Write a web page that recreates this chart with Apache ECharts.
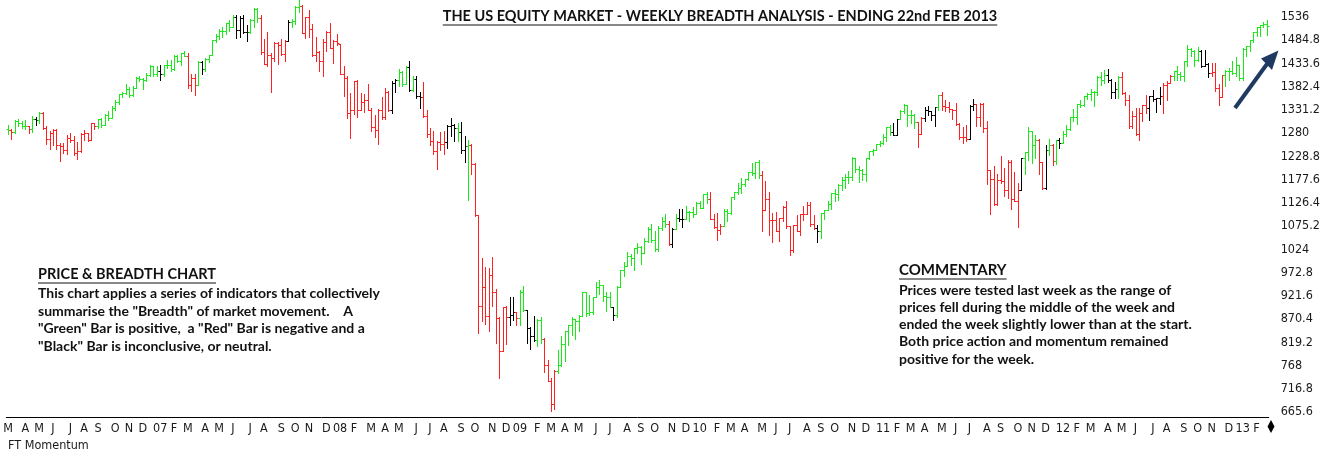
<!DOCTYPE html>
<html>
<head>
<meta charset="utf-8">
<title>US Equity Market - Weekly Breadth Analysis</title>
<script src="https://cdn.jsdelivr.net/npm/echarts@6/dist/echarts.min.js"></script>
<style>
  html, body { margin: 0; padding: 0; background: #fff; }
  #chart { width: 1323px; height: 455px; }
</style>
</head>
<body>
<div id="chart"></div>
<script>
// S&P weekly bars, one row per week ending Friday, first week ends 3 Mar 2006
// row = [open, high, low, close]
const ohlc2006 = [
  [1289,1297,1278,1287],[1287,1290,1268,1282],[1282,1310,1281,1307],[1307,1311,1296,1302],[1302,1307,1291,1295],
  [1295,1310,1290,1295],[1295,1296,1280,1289],[1289,1318,1282,1311],[1311,1316,1299,1310],
  [1310,1326,1303,1325],[1325,1327,1290,1291],[1291,1295,1256,1267],[1267,1284,1245,1280],
  [1280,1290,1254,1288],[1288,1289,1245,1253],[1253,1258,1219,1251],[1251,1258,1237,1244],[1244,1276,1234,1270],
  [1270,1280,1260,1265],[1265,1273,1233,1236],[1236,1260,1224,1240],[1240,1280,1239,1278],
  [1278,1287,1265,1280],[1280,1281,1262,1266],[1266,1303,1265,1302],[1302,1303,1290,1295],
  [1295,1312,1291,1311],[1311,1314,1294,1299],[1299,1322,1298,1319],[1319,1329,1310,1314],[1314,1340,1313,1336],
  [1336,1353,1331,1349],[1349,1366,1344,1366],[1366,1371,1360,1368],[1368,1389,1366,1377],
  [1377,1381,1360,1364],[1364,1384,1362,1380],[1380,1404,1379,1401],[1401,1406,1396,1400],
  [1400,1402,1377,1397],[1397,1412,1396,1409],[1409,1431,1405,1427],[1427,1429,1407,1410],[1410,1427,1407,1418]
]
const ohlc2007 = [
  [1418,1430,1397,1410],[1410,1431,1405,1431],[1431,1441,1424,1431],[1431,1441,1416,1422],
  [1422,1452,1420,1449],[1449,1453,1437,1438],[1438,1456,1431,1456],[1456,1461,1450,1451],
  [1451,1456,1380,1387],[1387,1410,1374,1402],[1402,1411,1364,1387],[1387,1438,1386,1436],[1436,1438,1411,1421],
  [1421,1445,1416,1444],[1444,1453,1436,1453],[1453,1485,1452,1485],[1485,1498,1480,1495],
  [1495,1510,1488,1505],[1505,1513,1491,1505],[1505,1522,1498,1522],[1522,1529,1505,1515],
  [1515,1540,1513,1536],[1536,1540,1490,1507],[1507,1538,1493,1533],[1533,1540,1501,1503],[1503,1518,1484,1503],
  [1503,1532,1500,1530],[1530,1555,1515,1553],[1553,1556,1526,1534],[1534,1541,1454,1459],
  [1459,1488,1432,1433],[1433,1504,1429,1453],[1453,1456,1370,1445],[1445,1482,1440,1479],[1479,1481,1432,1474],
  [1474,1488,1452,1454],[1454,1485,1439,1484],[1484,1530,1483,1525],[1525,1532,1513,1527],
  [1527,1561,1521,1557],[1557,1576,1547,1561],[1561,1563,1500,1501],[1501,1535,1490,1535],
  [1535,1552,1492,1510],[1510,1520,1451,1453],[1453,1493,1438,1458],[1458,1462,1416,1440],[1440,1488,1406,1481],
  [1481,1505,1460,1504],[1504,1523,1467,1468],[1468,1485,1435,1484],[1484,1498,1474,1478]
]
const ohlc2008 = [
  [1476,1476,1411,1411],[1411,1428,1363,1401],[1401,1405,1313,1325],[1325,1368,1270,1331],
  [1331,1396,1322,1396],[1396,1397,1316,1331],[1331,1368,1330,1349],[1349,1367,1326,1353],[1353,1388,1330,1331],
  [1331,1335,1284,1294],[1294,1321,1271,1288],[1288,1334,1257,1330],[1330,1359,1312,1316],
  [1316,1380,1312,1370],[1370,1373,1328,1332],[1332,1395,1324,1390],[1390,1400,1370,1398],
  [1398,1422,1384,1414],[1414,1416,1385,1388],[1388,1429,1388,1426],[1426,1440,1373,1375],[1375,1406,1373,1400],
  [1400,1405,1358,1361],[1361,1370,1335,1360],[1360,1392,1315,1318],[1318,1330,1272,1278],
  [1278,1291,1255,1262],[1262,1285,1235,1240],[1240,1263,1200,1261],[1261,1283,1243,1257],
  [1257,1285,1234,1260],[1260,1297,1247,1296],[1296,1314,1274,1298],[1298,1300,1262,1292],[1292,1303,1263,1283],
  [1283,1304,1236,1242],[1242,1274,1217,1252],[1252,1265,1133,1255],[1255,1256,1189,1213],
  [1213,1215,1097,1099],[1099,1100,840,899],[899,1006,866,940],[940,985,860,877],[877,984,845,968],
  [968,1007,899,931],[931,936,818,873],[873,876,741,800],[800,896,799,896],
  [896,900,815,876],[876,919,857,879],[879,918,869,887],[887,887,857,873]
]
const ohlc2009 = [
  [873,934,857,931],[931,943,888,890],[890,891,818,850],[850,852,804,832],[832,877,821,825],
  [825,870,812,868],[868,875,818,826],[826,828,754,770],[770,780,734,735],
  [735,741,667,683],[683,758,672,756],[756,803,751,769],[769,832,766,816],
  [816,845,779,843],[843,857,814,857],[857,876,836,870],[870,871,826,866],
  [866,880,845,878],[878,930,877,930],[930,930,878,883],[883,924,880,887],[887,920,881,919],
  [919,951,919,940],[940,956,926,946],[946,946,910,921],[921,930,888,918],
  [918,931,896,896],[896,898,869,880],[880,943,875,940],[940,979,940,979],[979,996,965,987],
  [987,1018,987,1010],[1010,1013,990,1005],[1005,1027,978,1026],[1026,1039,1016,1029],
  [1029,1031,991,1016],[1016,1049,1016,1042],[1042,1074,1040,1068],[1068,1080,1041,1044],
  [1044,1065,1020,1025],[1025,1076,1020,1071],[1071,1096,1066,1087],[1087,1101,1073,1080],[1080,1086,1033,1036],
  [1036,1071,1029,1069],[1069,1101,1069,1093],[1093,1113,1086,1091],[1091,1113,1073,1091],
  [1091,1119,1091,1106],[1106,1108,1086,1106],[1106,1117,1095,1102],[1102,1128,1102,1127]
]
const ohlc2010 = [
  [1127,1130,1115,1115],[1115,1145,1115,1145],[1145,1150,1127,1136],[1136,1150,1090,1091],[1091,1103,1071,1074],
  [1074,1104,1044,1066],[1066,1080,1057,1075],[1075,1112,1075,1109],[1109,1113,1086,1104],
  [1104,1139,1101,1139],[1139,1151,1135,1150],[1150,1170,1145,1160],[1160,1181,1149,1167],
  [1167,1180,1163,1178],[1178,1195,1176,1194],[1194,1214,1187,1192],[1192,1217,1181,1217],[1217,1220,1181,1187],
  [1187,1197,1065,1111],[1111,1174,1111,1136],[1136,1150,1056,1088],[1088,1104,1040,1089],
  [1089,1106,1064,1065],[1065,1092,1043,1092],[1092,1120,1087,1117],[1117,1131,1071,1076],
  [1076,1076,1011,1022],[1022,1078,1018,1078],[1078,1099,1064,1065],[1065,1103,1056,1103],[1103,1120,1088,1102],
  [1102,1128,1101,1122],[1122,1129,1076,1079],[1079,1100,1069,1071],[1071,1077,1040,1065],
  [1065,1105,1048,1105],[1105,1111,1091,1110],[1110,1131,1110,1125],[1125,1149,1114,1149],
  [1149,1158,1131,1146],[1146,1167,1132,1166],[1166,1184,1155,1176],[1176,1190,1159,1183],[1183,1196,1171,1183],
  [1183,1227,1177,1225],[1225,1226,1194,1200],[1200,1207,1173,1199],[1199,1202,1176,1189],
  [1189,1225,1174,1225],[1225,1241,1224,1240],[1240,1246,1232,1244],[1244,1257,1243,1256],[1256,1262,1252,1258]
]
const ohlc2011 = [
  [1258,1278,1257,1272],[1272,1294,1262,1293],[1293,1297,1276,1283],[1283,1302,1275,1276],
  [1276,1311,1276,1311],[1311,1330,1311,1329],[1329,1344,1324,1343],[1343,1343,1295,1320],
  [1320,1332,1302,1321],[1321,1323,1291,1304],[1304,1304,1249,1279],[1279,1315,1279,1313],
  [1313,1338,1307,1332],[1332,1339,1320,1328],[1328,1329,1309,1320],[1320,1338,1295,1337],[1337,1364,1332,1364],
  [1364,1371,1330,1340],[1340,1354,1329,1338],[1338,1348,1326,1333],[1333,1334,1311,1331],
  [1331,1346,1297,1300],[1300,1303,1268,1271],[1271,1293,1258,1271],[1271,1299,1262,1268],
  [1268,1341,1268,1340],[1340,1356,1330,1344],[1344,1344,1296,1316],[1316,1347,1295,1345],[1345,1346,1283,1292],
  [1292,1307,1168,1199],[1199,1199,1101,1179],[1179,1208,1121,1123],[1123,1190,1121,1177],
  [1177,1230,1170,1174],[1174,1204,1141,1154],[1154,1220,1137,1216],[1216,1220,1114,1136],[1136,1195,1131,1131],
  [1131,1171,1074,1155],[1155,1225,1154,1225],[1225,1239,1191,1238],[1238,1293,1221,1285],
  [1285,1285,1215,1253],[1253,1277,1226,1264],[1264,1267,1191,1216],[1216,1216,1158,1159],
  [1159,1255,1158,1244],[1244,1267,1231,1255],[1255,1256,1209,1219],[1219,1265,1212,1265],[1265,1270,1248,1258]
]
const ohlc2012 = [
  [1258,1284,1258,1278],[1278,1297,1274,1289],[1289,1315,1287,1315],[1315,1333,1306,1316],
  [1316,1345,1300,1345],[1345,1354,1337,1343],[1343,1363,1340,1362],[1362,1368,1356,1366],
  [1366,1378,1354,1370],[1370,1374,1340,1371],[1371,1406,1365,1404],[1404,1414,1386,1397],[1397,1419,1391,1408],
  [1408,1422,1392,1398],[1398,1399,1357,1370],[1370,1392,1358,1378],[1378,1406,1358,1403],
  [1403,1415,1367,1369],[1369,1370,1343,1353],[1353,1365,1292,1295],[1295,1328,1291,1318],
  [1318,1335,1277,1278],[1278,1335,1266,1325],[1325,1343,1306,1343],[1343,1364,1324,1335],[1335,1362,1309,1362],
  [1362,1375,1352,1355],[1355,1357,1326,1357],[1357,1381,1345,1363],[1363,1391,1325,1386],
  [1386,1395,1354,1391],[1391,1408,1390,1406],[1406,1418,1397,1418],[1418,1427,1398,1411],[1411,1414,1397,1407],
  [1407,1438,1396,1438],[1438,1475,1429,1466],[1466,1467,1449,1460],[1460,1463,1429,1441],
  [1441,1470,1438,1461],[1461,1464,1425,1428],[1428,1464,1427,1433],[1433,1434,1403,1412],
  [1412,1434,1405,1414],[1414,1434,1373,1380],[1380,1388,1343,1360],[1360,1409,1360,1409],[1409,1420,1385,1416],
  [1416,1423,1398,1418],[1418,1439,1411,1413],[1413,1448,1405,1430],[1430,1430,1398,1402]
]
const ohlc2013 = [
  [1402,1467,1398,1466],[1466,1472,1451,1472],[1472,1486,1461,1486],[1486,1503,1482,1503],
  [1503,1514,1495,1513],[1513,1518,1495,1518],[1518,1524,1513,1520],[1520,1530,1497,1516]
]

// breadth reading of each bar: G positive, R negative, K inconclusive
const tone2006 = 'GRGGGGRGKG' + 'RRRRRRRRRRRRRRRR' + 'GGGGGGGGGGGGGGGGGG'
const tone2007 = 'KGGGGGGGRRRGKGGGGGGGGGKKKKGGGRRRRRRRRKGGGRRRRRRRRRRR'
const tone2008 = 'RRRRRRRRRRRRRRRKKGGGKGKKRRRRRRRKKKGKKGRRRRRRRRRRRKKR'
const tone2009 = 'GGKKKGGRRRRGGGGGGGGGGGGGGGGKGGGGGGGGGGGGGGGRKGKKGGGG'
const tone2010 = 'GGGRRRRGGGGGGGGGGGRRRRRRRRRRRRRRRRKGGGGGGGGGGGGGGGGGG'
const tone2011 = 'GGGKKGGGGGRRKKKKGRRRRRRRRKKRRRRRRRRRRRRRKGGGGRRKGRGK'
const tone2012 = 'GGGGGGGGGGGGGKKKGRRRRRRRRKKKKRRRGGGGGGGGKKKRRRRGGGGG'
const tone2013 = 'GGGGGGGG'

const toneColor = { G: '#18ea18', R: '#ff2020', K: '#000000' }

const bars = [].concat(ohlc2006, ohlc2007, ohlc2008, ohlc2009, ohlc2010, ohlc2011, ohlc2012, ohlc2013)
const tones = tone2006 + tone2007 + tone2008 + tone2009 + tone2010 + tone2011 + tone2012 + tone2013

// week ending dates for the category axis
const weekDates = []
const firstFriday = Date.UTC(2006, 2, 3)
for (let i = 0; i < bars.length; i++) {
  weekDates.push(new Date(firstFriday + i * 7 * 86400000).toISOString().slice(0, 10))
}
// month letter on the first week of each month, two digit year for January
const monthTag = weekDates.map((d, i) => {
  const m = +d.slice(5, 7)
  if (i > 0 && +weekDates[i - 1].slice(5, 7) === m) return ''
  return m === 1 ? d.slice(2, 4) : 'JFMAMJJASOND'[m - 1]
})

const titleText = 'THE US EQUITY MARKET - WEEKLY BREADTH ANALYSIS - ENDING 22nd FEB 2013'
const leftHead = 'PRICE & BREADTH CHART'
const leftNote = [
  'This chart applies a series of indicators that collectively',
  'summarise the "Breadth" of market movement.    A',
  '"Green" Bar is positive,  a "Red" Bar is negative and a',
  '"Black" Bar is inconclusive, or neutral.'
]
const rightHead = 'COMMENTARY'
const rightNote = [
  'Prices were tested last week as the range of',
  'prices fell during the middle of the week and',
  'ended the week slightly lower than at the start.',
  'Both price action and momentum remained',
  'positive for the week.'
]

const axisFont = "'Liberation Sans Narrow', 'DejaVu Sans Condensed', 'Liberation Sans', sans-serif"
const noteFont = "Lato, 'Open Sans', sans-serif"
const ink = '#111'

let measureCtx = document.createElement('canvas').getContext('2d')
function textWidth (txt, font) {
  measureCtx.font = font
  return measureCtx.measureText(txt).width
}

// underlined heading, x is left edge (or centre when centred)
function underlined (txt, x, y, font, centred) {
  const w = textWidth(txt, font)
  const left = centred ? x - w / 2 : x
  return [
    { type: 'text', x: left, y: y, style: { text: txt, font: font, fill: ink, verticalAlign: 'middle' } },
    { type: 'line', shape: { x1: left, y1: y + 8.5, x2: left + w, y2: y + 8.5 }, style: { stroke: ink, lineWidth: 1 } }
  ]
}

function drawBar (params, api) {
  const idx = api.value(0)
  const x = Math.round(api.coord([idx, 1000])[0]) + 0.5
  const yO = Math.round(api.coord([idx, api.value(1)])[1]) + 0.5
  const yH = Math.round(api.coord([idx, api.value(2)])[1])
  const yL = Math.round(api.coord([idx, api.value(3)])[1])
  const yC = Math.round(api.coord([idx, api.value(4)])[1]) + 0.5
  const style = { stroke: api.visual('color'), lineWidth: 1 }
  return {
    type: 'group',
    children: [
      { type: 'line', shape: { x1: x, y1: yH, x2: x, y2: yL + 1 }, style: style },
      { type: 'line', shape: { x1: x - 2, y1: yO, x2: x, y2: yO }, style: style },
      { type: 'line', shape: { x1: x, y1: yC, x2: x + 2, y2: yC }, style: style }
    ]
  }
}

const chart = echarts.init(document.getElementById('chart'))
const arrowColor = '#1f3a60'
const option = {
  animation: false,
  backgroundColor: '#fff',
  grid: { left: 6.3, right: 51.2, top: 17, bottom: 43, containLabel: false },
  xAxis: {
    type: 'category',
    data: weekDates,
    boundaryGap: true,
    offset: 5,
    axisLine: { lineStyle: { color: '#000', width: 1 } },
    axisTick: {
      alignWithLabel: true,
      interval: (i) => monthTag[i] !== '',
      length: 4,
      lineStyle: { color: '#000' }
    },
    axisLabel: {
      interval: (i) => monthTag[i] !== '',
      formatter: (v, i) => monthTag[i],
      margin: 5,
      color: '#1a1a1a',
      fontFamily: axisFont,
      fontSize: 12.5
    },
    splitLine: { show: false }
  },
  yAxis: {
    type: 'value',
    position: 'right',
    min: 665.6,
    max: 1536,
    interval: 51.2,
    axisLine: { show: false },
    axisTick: { show: false },
    splitLine: { show: false },
    axisLabel: {
      margin: 12,
      color: '#1a1a1a',
      fontFamily: axisFont,
      fontSize: 12.5,
      formatter: (v) => String(Math.round(v * 10) / 10)
    }
  },
  series: [{
    type: 'custom',
    renderItem: drawBar,
    clip: false,
    encode: { x: 0, y: [1, 2, 3, 4] },
    data: bars.map((b, i) => ({ value: [i].concat(b), itemStyle: { color: toneColor[tones[i]] } }))
  }],
  graphic: [].concat(
    underlined(titleText, 720, 16.5, 'bold 14.5px ' + noteFont, true),
    underlined(leftHead, 38, 274.5, 'bold 14.5px ' + noteFont, false),
    underlined(rightHead, 899, 270.5, 'bold 15px ' + noteFont, false),
    [
      { type: 'text', x: 38, y: 284.8, style: { text: leftNote.join('\n'), font: 'bold 14px ' + noteFont, lineHeight: 17.5, fill: ink, verticalAlign: 'top' } },
      { type: 'text', x: 899, y: 281.4, style: { text: rightNote.join('\n'), font: 'bold 14px ' + noteFont, lineHeight: 17.25, fill: ink, verticalAlign: 'top' } },
      { type: 'text', x: 8, y: 446, style: { text: 'FT Momentum', font: '12.5px ' + axisFont, fill: '#1a1a1a', verticalAlign: 'middle' } },
      { type: 'line', shape: { x1: 1235, y1: 108, x2: 1267, y2: 64 }, style: { stroke: arrowColor, lineWidth: 4 } },
      { type: 'polygon', shape: { points: [[1278.5, 50.5], [1261, 58.5], [1272, 70]] }, style: { fill: arrowColor } },
      { type: 'polygon', shape: { points: [[1271, 420], [1274.5, 426.5], [1271, 433], [1267.5, 426.5]] }, style: { fill: '#000' } }
    ]
  )
}
chart.setOption(option)
</script>
</body>
</html>
